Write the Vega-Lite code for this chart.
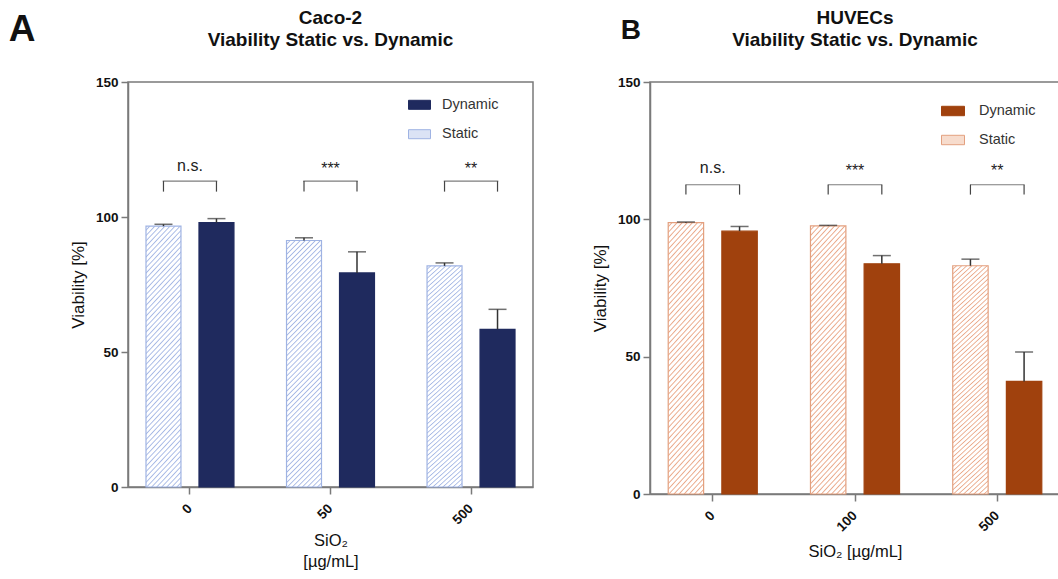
{
  "$schema": "https://vega.github.io/schema/vega-lite/v6.json",
  "background": "white",
  "padding": {"left": 8, "top": 8, "right": 0, "bottom": 0},
  "spacing": 56,
  "config": {
    "font": "Liberation Sans",
    "view": {"stroke": "#7a7a7a", "strokeWidth": 1.5},
    "axis": {"domainColor": "#7a7a7a", "domainWidth": 1.5, "tickColor": "#7a7a7a", "tickWidth": 1.5, "labelColor": "#111", "titleColor": "#111", "labelFont": "Liberation Sans", "titleFont": "Liberation Sans"},
    "title": {"font": "Liberation Sans", "fontWeight": "bold", "color": "#111"},
    "legend": {"labelFont": "Liberation Sans"}
  },
  "datasets": {
    "caco": [
      {"conc": "0", "condition": "Static", "mean": 96.6, "upper": 97.3},
      {"conc": "0", "condition": "Dynamic", "mean": 97.9, "upper": 99.4},
      {"conc": "50", "condition": "Static", "mean": 91.3, "upper": 92.3},
      {"conc": "50", "condition": "Dynamic", "mean": 79.3, "upper": 87.1},
      {"conc": "500", "condition": "Static", "mean": 81.9, "upper": 83.0},
      {"conc": "500", "condition": "Dynamic", "mean": 58.4, "upper": 65.8}
    ],
    "cacoSig": [
      {"conc": "0", "sig": "n.s.", "low": 109.4, "high": 113.3, "labelY": 117.1},
      {"conc": "50", "sig": "***", "low": 109.4, "high": 113.3, "labelY": 116},
      {"conc": "500", "sig": "**", "low": 109.4, "high": 113.3, "labelY": 116}
    ],
    "huvec": [
      {"conc": "0", "condition": "Static", "mean": 98.8, "upper": 99.0},
      {"conc": "0", "condition": "Dynamic", "mean": 95.7, "upper": 97.4},
      {"conc": "100", "condition": "Static", "mean": 97.6, "upper": 97.8},
      {"conc": "100", "condition": "Dynamic", "mean": 83.8, "upper": 86.8},
      {"conc": "500", "condition": "Static", "mean": 83.1, "upper": 85.5},
      {"conc": "500", "condition": "Dynamic", "mean": 41.0, "upper": 51.7}
    ],
    "huvecSig": [
      {"conc": "0", "sig": "n.s.", "low": 109.0, "high": 112.6, "labelY": 116.9},
      {"conc": "100", "sig": "***", "low": 109.0, "high": 112.6, "labelY": 115.7},
      {"conc": "500", "sig": "**", "low": 109.0, "high": 112.6, "labelY": 115.7}
    ]
  },
  "resolve": {"scale": {"fill": "independent", "stroke": "independent", "x": "independent", "y": "independent", "xOffset": "independent"}, "legend": {"fill": "independent", "stroke": "independent"}},
  "hconcat": [
    {
      "title": {"text": "A", "anchor": "start", "frame": "bounds", "fontSize": 37, "dx": -60, "dy": 41, "offset": 0},
      "resolve": {"scale": {"fill": "independent", "stroke": "independent"}, "legend": {"fill": "independent", "stroke": "independent"}},
      "vconcat": [
        {
          "width": 405,
          "height": 405,
          "title": {"text": ["Caco-2", "Viability Static vs. Dynamic"], "fontSize": 19, "lineHeight": 22, "offset": 25, "anchor": "middle"},
          "layer": [
            {
              "data": {"name": "caco"},
              "mark": {"type": "bar", "strokeWidth": 1.2},
              "encoding": {
                "x": {"field": "conc", "type": "nominal", "scale": {"domain": ["0", "50", "500"], "paddingInner": 0.374, "paddingOuter": 0.128},
                  "axis": {"title": ["SiO₂", "[µg/mL]"], "labelAngle": -45, "labelBaseline": "middle", "labelFontWeight": "bold", "labelFontSize": 13.5, "tickSize": 7, "labelPadding": 12, "titleFontSize": 16.5, "titleFontWeight": "normal", "titleLineHeight": 21, "titlePadding": 6}},
                "xOffset": {"field": "condition", "type": "nominal", "scale": {"domain": ["Static", "Dynamic"], "paddingInner": 0.34, "paddingOuter": 0}},
                "y": {"field": "mean", "type": "quantitative", "scale": {"domain": [0, 150], "nice": false},
                  "axis": {"title": "Viability [%]", "values": [0, 50, 100, 150], "grid": false, "labelFontWeight": "bold", "labelFontSize": 13.5, "tickSize": 7, "labelPadding": 3, "titleFontSize": 17, "titleFontWeight": "normal", "titlePadding": 8}},
                "fill": {"field": "condition", "type": "nominal",
                  "scale": {"domain": ["Dynamic", "Static"], "range": ["#1f2a5e", "#dbe3f5"]},
                  "legend": {"title": null, "orient": "none", "legendX": 280, "legendY": 11.3, "padding": 0, "symbolType": "M-1,-0.41H1V0.41H-1Z", "symbolSize": 484, "symbolStrokeWidth": 1, "symbolOpacity": 1, "labelFontSize": 14.5, "labelOffset": 11, "labelColor": "#333", "rowPadding": 10.4},
                  "condition": {"test": "datum.condition === 'Static'", "value": {"gradient": "linear", "x1": 0, "y1": 0, "x2": 0.16, "y2": 1.12, "stops": [
                    {"offset": 0, "color": "#fff"}, {"offset": 0.009, "color": "#fff"}, {"offset": 0.0135, "color": "#a6b8e5"},
                    {"offset": 0.018, "color": "#fff"}, {"offset": 0.027, "color": "#fff"}, {"offset": 0.0315, "color": "#a6b8e5"},
                    {"offset": 0.036, "color": "#fff"}, {"offset": 0.045, "color": "#fff"}, {"offset": 0.0495, "color": "#a6b8e5"},
                    {"offset": 0.054, "color": "#fff"}, {"offset": 0.063, "color": "#fff"}, {"offset": 0.0675, "color": "#a6b8e5"},
                    {"offset": 0.072, "color": "#fff"}, {"offset": 0.081, "color": "#fff"}, {"offset": 0.0855, "color": "#a6b8e5"},
                    {"offset": 0.09, "color": "#fff"}, {"offset": 0.099, "color": "#fff"}, {"offset": 0.1035, "color": "#a6b8e5"},
                    {"offset": 0.108, "color": "#fff"}, {"offset": 0.117, "color": "#fff"}, {"offset": 0.1215, "color": "#a6b8e5"},
                    {"offset": 0.126, "color": "#fff"}, {"offset": 0.135, "color": "#fff"}, {"offset": 0.1395, "color": "#a6b8e5"},
                    {"offset": 0.144, "color": "#fff"}, {"offset": 0.153, "color": "#fff"}, {"offset": 0.1575, "color": "#a6b8e5"},
                    {"offset": 0.162, "color": "#fff"}, {"offset": 0.171, "color": "#fff"}, {"offset": 0.1755, "color": "#a6b8e5"},
                    {"offset": 0.18, "color": "#fff"}, {"offset": 0.189, "color": "#fff"}, {"offset": 0.1935, "color": "#a6b8e5"},
                    {"offset": 0.198, "color": "#fff"}, {"offset": 0.207, "color": "#fff"}, {"offset": 0.2115, "color": "#a6b8e5"},
                    {"offset": 0.216, "color": "#fff"}, {"offset": 0.225, "color": "#fff"}, {"offset": 0.2295, "color": "#a6b8e5"},
                    {"offset": 0.234, "color": "#fff"}, {"offset": 0.243, "color": "#fff"}, {"offset": 0.2475, "color": "#a6b8e5"},
                    {"offset": 0.252, "color": "#fff"}, {"offset": 0.261, "color": "#fff"}, {"offset": 0.2655, "color": "#a6b8e5"},
                    {"offset": 0.27, "color": "#fff"}, {"offset": 0.279, "color": "#fff"}, {"offset": 0.2835, "color": "#a6b8e5"},
                    {"offset": 0.288, "color": "#fff"}, {"offset": 0.297, "color": "#fff"}, {"offset": 0.3015, "color": "#a6b8e5"},
                    {"offset": 0.306, "color": "#fff"}, {"offset": 0.315, "color": "#fff"}, {"offset": 0.3195, "color": "#a6b8e5"},
                    {"offset": 0.324, "color": "#fff"}, {"offset": 0.333, "color": "#fff"}, {"offset": 0.3375, "color": "#a6b8e5"},
                    {"offset": 0.342, "color": "#fff"}, {"offset": 0.351, "color": "#fff"}, {"offset": 0.3555, "color": "#a6b8e5"},
                    {"offset": 0.36, "color": "#fff"}, {"offset": 0.369, "color": "#fff"}, {"offset": 0.3735, "color": "#a6b8e5"},
                    {"offset": 0.378, "color": "#fff"}, {"offset": 0.387, "color": "#fff"}, {"offset": 0.3915, "color": "#a6b8e5"},
                    {"offset": 0.396, "color": "#fff"}, {"offset": 0.405, "color": "#fff"}, {"offset": 0.4095, "color": "#a6b8e5"},
                    {"offset": 0.414, "color": "#fff"}, {"offset": 0.423, "color": "#fff"}, {"offset": 0.4275, "color": "#a6b8e5"},
                    {"offset": 0.432, "color": "#fff"}, {"offset": 0.441, "color": "#fff"}, {"offset": 0.4455, "color": "#a6b8e5"},
                    {"offset": 0.45, "color": "#fff"}, {"offset": 0.459, "color": "#fff"}, {"offset": 0.4635, "color": "#a6b8e5"},
                    {"offset": 0.468, "color": "#fff"}, {"offset": 0.477, "color": "#fff"}, {"offset": 0.4815, "color": "#a6b8e5"},
                    {"offset": 0.486, "color": "#fff"}, {"offset": 0.495, "color": "#fff"}, {"offset": 0.4995, "color": "#a6b8e5"},
                    {"offset": 0.504, "color": "#fff"}, {"offset": 0.513, "color": "#fff"}, {"offset": 0.5175, "color": "#a6b8e5"},
                    {"offset": 0.522, "color": "#fff"}, {"offset": 0.531, "color": "#fff"}, {"offset": 0.5355, "color": "#a6b8e5"},
                    {"offset": 0.54, "color": "#fff"}, {"offset": 0.549, "color": "#fff"}, {"offset": 0.5535, "color": "#a6b8e5"},
                    {"offset": 0.558, "color": "#fff"}, {"offset": 0.567, "color": "#fff"}, {"offset": 0.5715, "color": "#a6b8e5"},
                    {"offset": 0.576, "color": "#fff"}, {"offset": 0.585, "color": "#fff"}, {"offset": 0.5895, "color": "#a6b8e5"},
                    {"offset": 0.594, "color": "#fff"}, {"offset": 0.603, "color": "#fff"}, {"offset": 0.6075, "color": "#a6b8e5"},
                    {"offset": 0.612, "color": "#fff"}, {"offset": 0.621, "color": "#fff"}, {"offset": 0.6255, "color": "#a6b8e5"},
                    {"offset": 0.63, "color": "#fff"}, {"offset": 0.639, "color": "#fff"}, {"offset": 0.6435, "color": "#a6b8e5"},
                    {"offset": 0.648, "color": "#fff"}, {"offset": 0.657, "color": "#fff"}, {"offset": 0.6615, "color": "#a6b8e5"},
                    {"offset": 0.666, "color": "#fff"}, {"offset": 0.675, "color": "#fff"}, {"offset": 0.6795, "color": "#a6b8e5"},
                    {"offset": 0.684, "color": "#fff"}, {"offset": 0.693, "color": "#fff"}, {"offset": 0.6975, "color": "#a6b8e5"},
                    {"offset": 0.702, "color": "#fff"}, {"offset": 0.711, "color": "#fff"}, {"offset": 0.7155, "color": "#a6b8e5"},
                    {"offset": 0.72, "color": "#fff"}, {"offset": 0.729, "color": "#fff"}, {"offset": 0.7335, "color": "#a6b8e5"},
                    {"offset": 0.738, "color": "#fff"}, {"offset": 0.747, "color": "#fff"}, {"offset": 0.7515, "color": "#a6b8e5"},
                    {"offset": 0.756, "color": "#fff"}, {"offset": 0.765, "color": "#fff"}, {"offset": 0.7695, "color": "#a6b8e5"},
                    {"offset": 0.774, "color": "#fff"}, {"offset": 0.783, "color": "#fff"}, {"offset": 0.7875, "color": "#a6b8e5"},
                    {"offset": 0.792, "color": "#fff"}, {"offset": 0.801, "color": "#fff"}, {"offset": 0.8055, "color": "#a6b8e5"},
                    {"offset": 0.81, "color": "#fff"}, {"offset": 0.819, "color": "#fff"}, {"offset": 0.8235, "color": "#a6b8e5"},
                    {"offset": 0.828, "color": "#fff"}, {"offset": 0.837, "color": "#fff"}, {"offset": 0.8415, "color": "#a6b8e5"},
                    {"offset": 0.846, "color": "#fff"}, {"offset": 0.855, "color": "#fff"}, {"offset": 0.8595, "color": "#a6b8e5"},
                    {"offset": 0.864, "color": "#fff"}, {"offset": 0.873, "color": "#fff"}, {"offset": 0.8775, "color": "#a6b8e5"},
                    {"offset": 0.882, "color": "#fff"}, {"offset": 0.891, "color": "#fff"}, {"offset": 0.8955, "color": "#a6b8e5"},
                    {"offset": 0.9, "color": "#fff"}, {"offset": 0.909, "color": "#fff"}, {"offset": 0.9135, "color": "#a6b8e5"},
                    {"offset": 0.918, "color": "#fff"}, {"offset": 0.927, "color": "#fff"}, {"offset": 0.9315, "color": "#a6b8e5"},
                    {"offset": 0.936, "color": "#fff"}, {"offset": 0.945, "color": "#fff"}, {"offset": 0.9495, "color": "#a6b8e5"},
                    {"offset": 0.954, "color": "#fff"}, {"offset": 0.963, "color": "#fff"}, {"offset": 0.9675, "color": "#a6b8e5"},
                    {"offset": 0.972, "color": "#fff"}, {"offset": 0.981, "color": "#fff"}, {"offset": 0.9855, "color": "#a6b8e5"},
                    {"offset": 0.99, "color": "#fff"}, {"offset": 1, "color": "#fff"}
                  ]}}},
                "stroke": {"field": "condition", "type": "nominal",
                  "scale": {"domain": ["Dynamic", "Static"], "range": ["#1f2a5e", "#9fb3e3"]},
                  "legend": {"title": null, "orient": "none", "legendX": 280, "legendY": 11.3, "padding": 0, "symbolType": "M-1,-0.41H1V0.41H-1Z", "symbolSize": 484, "symbolStrokeWidth": 1, "symbolOpacity": 1, "labelFontSize": 14.5, "labelOffset": 11, "labelColor": "#333", "rowPadding": 10.4}}
              }
            },
            {
              "data": {"name": "caco"},
              "mark": {"type": "rule", "color": "#333", "strokeWidth": 1.5},
              "encoding": {
                "x": {"field": "conc", "type": "nominal"},
                "xOffset": {"field": "condition", "type": "nominal"},
                "y": {"field": "mean", "type": "quantitative"},
                "y2": {"field": "upper"}
              }
            },
            {
              "data": {"name": "caco"},
              "mark": {"type": "tick", "orient": "horizontal", "color": "#333", "thickness": 1.5, "size": 18},
              "encoding": {
                "x": {"field": "conc", "type": "nominal"},
                "xOffset": {"field": "condition", "type": "nominal"},
                "y": {"field": "upper", "type": "quantitative"}
              }
            },
            {
              "data": {"name": "cacoSig"},
              "mark": {"type": "rule", "color": "#444", "strokeWidth": 1.2},
              "encoding": {
                "x": {"field": "conc", "type": "nominal"},
                "xOffset": {"datum": "Static", "type": "nominal"},
                "y": {"field": "low", "type": "quantitative"},
                "y2": {"field": "high"}
              }
            },
            {
              "data": {"name": "cacoSig"},
              "mark": {"type": "rule", "color": "#444", "strokeWidth": 1.2},
              "encoding": {
                "x": {"field": "conc", "type": "nominal"},
                "xOffset": {"datum": "Dynamic", "type": "nominal"},
                "y": {"field": "low", "type": "quantitative"},
                "y2": {"field": "high"}
              }
            },
            {
              "data": {"name": "cacoSig"},
              "mark": {"type": "tick", "orient": "horizontal", "color": "#444", "thickness": 1.2, "size": 54.5},
              "encoding": {
                "x": {"field": "conc", "type": "nominal"},
                "y": {"field": "high", "type": "quantitative"}
              }
            },
            {
              "data": {"name": "cacoSig"},
              "mark": {"type": "text", "fontSize": 16, "color": "#222", "baseline": "alphabetic"},
              "encoding": {
                "x": {"field": "conc", "type": "nominal"},
                "y": {"field": "labelY", "type": "quantitative"},
                "text": {"field": "sig"}
              }
            }
          ]
        }
      ]
    },
    {
      "title": {"text": "B", "anchor": "start", "frame": "bounds", "fontSize": 28, "dx": 30, "dy": 37, "offset": 0},
      "resolve": {"scale": {"fill": "independent", "stroke": "independent"}, "legend": {"fill": "independent", "stroke": "independent"}},
      "vconcat": [
        {
          "width": 410,
          "height": 412,
          "title": {"text": ["HUVECs", "Viability Static vs. Dynamic"], "fontSize": 19, "lineHeight": 22, "offset": 25, "anchor": "middle"},
          "layer": [
            {
              "data": {"name": "huvec"},
              "mark": {"type": "bar", "strokeWidth": 1.2},
              "encoding": {
                "x": {"field": "conc", "type": "nominal", "scale": {"domain": ["0", "100", "500"], "paddingInner": 0.374, "paddingOuter": 0.128},
                  "axis": {"title": "SiO₂ [µg/mL]", "labelAngle": -45, "labelBaseline": "middle", "labelFontWeight": "bold", "labelFontSize": 13.5, "tickSize": 7, "labelPadding": 12, "titleFontSize": 16.5, "titleFontWeight": "normal", "titlePadding": 10}},
                "xOffset": {"field": "condition", "type": "nominal", "scale": {"domain": ["Static", "Dynamic"], "paddingInner": 0.34, "paddingOuter": 0}},
                "y": {"field": "mean", "type": "quantitative", "scale": {"domain": [0, 150], "nice": false},
                  "axis": {"title": "Viability [%]", "values": [0, 50, 100, 150], "grid": false, "labelFontWeight": "bold", "labelFontSize": 13.5, "tickSize": 7, "labelPadding": 3, "titleFontSize": 17, "titleFontWeight": "normal", "titlePadding": 8}},
                "fill": {"field": "condition", "type": "nominal",
                  "scale": {"domain": ["Dynamic", "Static"], "range": ["#a0410d", "#f7dccd"]},
                  "legend": {"title": null, "orient": "none", "legendX": 291, "legendY": 17, "padding": 0, "symbolType": "M-1,-0.41H1V0.41H-1Z", "symbolSize": 529, "symbolStrokeWidth": 1, "symbolOpacity": 1, "labelFontSize": 14.5, "labelOffset": 14, "labelColor": "#333", "rowPadding": 10},
                  "condition": {"test": "datum.condition === 'Static'", "value": {"gradient": "linear", "x1": 0, "y1": 0, "x2": 0.16, "y2": 1.12, "stops": [
                    {"offset": 0, "color": "#fff"}, {"offset": 0.009, "color": "#fff"}, {"offset": 0.0135, "color": "#eaa98a"},
                    {"offset": 0.018, "color": "#fff"}, {"offset": 0.027, "color": "#fff"}, {"offset": 0.0315, "color": "#eaa98a"},
                    {"offset": 0.036, "color": "#fff"}, {"offset": 0.045, "color": "#fff"}, {"offset": 0.0495, "color": "#eaa98a"},
                    {"offset": 0.054, "color": "#fff"}, {"offset": 0.063, "color": "#fff"}, {"offset": 0.0675, "color": "#eaa98a"},
                    {"offset": 0.072, "color": "#fff"}, {"offset": 0.081, "color": "#fff"}, {"offset": 0.0855, "color": "#eaa98a"},
                    {"offset": 0.09, "color": "#fff"}, {"offset": 0.099, "color": "#fff"}, {"offset": 0.1035, "color": "#eaa98a"},
                    {"offset": 0.108, "color": "#fff"}, {"offset": 0.117, "color": "#fff"}, {"offset": 0.1215, "color": "#eaa98a"},
                    {"offset": 0.126, "color": "#fff"}, {"offset": 0.135, "color": "#fff"}, {"offset": 0.1395, "color": "#eaa98a"},
                    {"offset": 0.144, "color": "#fff"}, {"offset": 0.153, "color": "#fff"}, {"offset": 0.1575, "color": "#eaa98a"},
                    {"offset": 0.162, "color": "#fff"}, {"offset": 0.171, "color": "#fff"}, {"offset": 0.1755, "color": "#eaa98a"},
                    {"offset": 0.18, "color": "#fff"}, {"offset": 0.189, "color": "#fff"}, {"offset": 0.1935, "color": "#eaa98a"},
                    {"offset": 0.198, "color": "#fff"}, {"offset": 0.207, "color": "#fff"}, {"offset": 0.2115, "color": "#eaa98a"},
                    {"offset": 0.216, "color": "#fff"}, {"offset": 0.225, "color": "#fff"}, {"offset": 0.2295, "color": "#eaa98a"},
                    {"offset": 0.234, "color": "#fff"}, {"offset": 0.243, "color": "#fff"}, {"offset": 0.2475, "color": "#eaa98a"},
                    {"offset": 0.252, "color": "#fff"}, {"offset": 0.261, "color": "#fff"}, {"offset": 0.2655, "color": "#eaa98a"},
                    {"offset": 0.27, "color": "#fff"}, {"offset": 0.279, "color": "#fff"}, {"offset": 0.2835, "color": "#eaa98a"},
                    {"offset": 0.288, "color": "#fff"}, {"offset": 0.297, "color": "#fff"}, {"offset": 0.3015, "color": "#eaa98a"},
                    {"offset": 0.306, "color": "#fff"}, {"offset": 0.315, "color": "#fff"}, {"offset": 0.3195, "color": "#eaa98a"},
                    {"offset": 0.324, "color": "#fff"}, {"offset": 0.333, "color": "#fff"}, {"offset": 0.3375, "color": "#eaa98a"},
                    {"offset": 0.342, "color": "#fff"}, {"offset": 0.351, "color": "#fff"}, {"offset": 0.3555, "color": "#eaa98a"},
                    {"offset": 0.36, "color": "#fff"}, {"offset": 0.369, "color": "#fff"}, {"offset": 0.3735, "color": "#eaa98a"},
                    {"offset": 0.378, "color": "#fff"}, {"offset": 0.387, "color": "#fff"}, {"offset": 0.3915, "color": "#eaa98a"},
                    {"offset": 0.396, "color": "#fff"}, {"offset": 0.405, "color": "#fff"}, {"offset": 0.4095, "color": "#eaa98a"},
                    {"offset": 0.414, "color": "#fff"}, {"offset": 0.423, "color": "#fff"}, {"offset": 0.4275, "color": "#eaa98a"},
                    {"offset": 0.432, "color": "#fff"}, {"offset": 0.441, "color": "#fff"}, {"offset": 0.4455, "color": "#eaa98a"},
                    {"offset": 0.45, "color": "#fff"}, {"offset": 0.459, "color": "#fff"}, {"offset": 0.4635, "color": "#eaa98a"},
                    {"offset": 0.468, "color": "#fff"}, {"offset": 0.477, "color": "#fff"}, {"offset": 0.4815, "color": "#eaa98a"},
                    {"offset": 0.486, "color": "#fff"}, {"offset": 0.495, "color": "#fff"}, {"offset": 0.4995, "color": "#eaa98a"},
                    {"offset": 0.504, "color": "#fff"}, {"offset": 0.513, "color": "#fff"}, {"offset": 0.5175, "color": "#eaa98a"},
                    {"offset": 0.522, "color": "#fff"}, {"offset": 0.531, "color": "#fff"}, {"offset": 0.5355, "color": "#eaa98a"},
                    {"offset": 0.54, "color": "#fff"}, {"offset": 0.549, "color": "#fff"}, {"offset": 0.5535, "color": "#eaa98a"},
                    {"offset": 0.558, "color": "#fff"}, {"offset": 0.567, "color": "#fff"}, {"offset": 0.5715, "color": "#eaa98a"},
                    {"offset": 0.576, "color": "#fff"}, {"offset": 0.585, "color": "#fff"}, {"offset": 0.5895, "color": "#eaa98a"},
                    {"offset": 0.594, "color": "#fff"}, {"offset": 0.603, "color": "#fff"}, {"offset": 0.6075, "color": "#eaa98a"},
                    {"offset": 0.612, "color": "#fff"}, {"offset": 0.621, "color": "#fff"}, {"offset": 0.6255, "color": "#eaa98a"},
                    {"offset": 0.63, "color": "#fff"}, {"offset": 0.639, "color": "#fff"}, {"offset": 0.6435, "color": "#eaa98a"},
                    {"offset": 0.648, "color": "#fff"}, {"offset": 0.657, "color": "#fff"}, {"offset": 0.6615, "color": "#eaa98a"},
                    {"offset": 0.666, "color": "#fff"}, {"offset": 0.675, "color": "#fff"}, {"offset": 0.6795, "color": "#eaa98a"},
                    {"offset": 0.684, "color": "#fff"}, {"offset": 0.693, "color": "#fff"}, {"offset": 0.6975, "color": "#eaa98a"},
                    {"offset": 0.702, "color": "#fff"}, {"offset": 0.711, "color": "#fff"}, {"offset": 0.7155, "color": "#eaa98a"},
                    {"offset": 0.72, "color": "#fff"}, {"offset": 0.729, "color": "#fff"}, {"offset": 0.7335, "color": "#eaa98a"},
                    {"offset": 0.738, "color": "#fff"}, {"offset": 0.747, "color": "#fff"}, {"offset": 0.7515, "color": "#eaa98a"},
                    {"offset": 0.756, "color": "#fff"}, {"offset": 0.765, "color": "#fff"}, {"offset": 0.7695, "color": "#eaa98a"},
                    {"offset": 0.774, "color": "#fff"}, {"offset": 0.783, "color": "#fff"}, {"offset": 0.7875, "color": "#eaa98a"},
                    {"offset": 0.792, "color": "#fff"}, {"offset": 0.801, "color": "#fff"}, {"offset": 0.8055, "color": "#eaa98a"},
                    {"offset": 0.81, "color": "#fff"}, {"offset": 0.819, "color": "#fff"}, {"offset": 0.8235, "color": "#eaa98a"},
                    {"offset": 0.828, "color": "#fff"}, {"offset": 0.837, "color": "#fff"}, {"offset": 0.8415, "color": "#eaa98a"},
                    {"offset": 0.846, "color": "#fff"}, {"offset": 0.855, "color": "#fff"}, {"offset": 0.8595, "color": "#eaa98a"},
                    {"offset": 0.864, "color": "#fff"}, {"offset": 0.873, "color": "#fff"}, {"offset": 0.8775, "color": "#eaa98a"},
                    {"offset": 0.882, "color": "#fff"}, {"offset": 0.891, "color": "#fff"}, {"offset": 0.8955, "color": "#eaa98a"},
                    {"offset": 0.9, "color": "#fff"}, {"offset": 0.909, "color": "#fff"}, {"offset": 0.9135, "color": "#eaa98a"},
                    {"offset": 0.918, "color": "#fff"}, {"offset": 0.927, "color": "#fff"}, {"offset": 0.9315, "color": "#eaa98a"},
                    {"offset": 0.936, "color": "#fff"}, {"offset": 0.945, "color": "#fff"}, {"offset": 0.9495, "color": "#eaa98a"},
                    {"offset": 0.954, "color": "#fff"}, {"offset": 0.963, "color": "#fff"}, {"offset": 0.9675, "color": "#eaa98a"},
                    {"offset": 0.972, "color": "#fff"}, {"offset": 0.981, "color": "#fff"}, {"offset": 0.9855, "color": "#eaa98a"},
                    {"offset": 0.99, "color": "#fff"}, {"offset": 1, "color": "#fff"}
                  ]}}},
                "stroke": {"field": "condition", "type": "nominal",
                  "scale": {"domain": ["Dynamic", "Static"], "range": ["#a0410d", "#e3a07f"]},
                  "legend": {"title": null, "orient": "none", "legendX": 291, "legendY": 17, "padding": 0, "symbolType": "M-1,-0.41H1V0.41H-1Z", "symbolSize": 529, "symbolStrokeWidth": 1, "symbolOpacity": 1, "labelFontSize": 14.5, "labelOffset": 14, "labelColor": "#333", "rowPadding": 10}}
              }
            },
            {
              "data": {"name": "huvec"},
              "mark": {"type": "rule", "color": "#333", "strokeWidth": 1.5},
              "encoding": {
                "x": {"field": "conc", "type": "nominal"},
                "xOffset": {"field": "condition", "type": "nominal"},
                "y": {"field": "mean", "type": "quantitative"},
                "y2": {"field": "upper"}
              }
            },
            {
              "data": {"name": "huvec"},
              "mark": {"type": "tick", "orient": "horizontal", "color": "#333", "thickness": 1.5, "size": 18},
              "encoding": {
                "x": {"field": "conc", "type": "nominal"},
                "xOffset": {"field": "condition", "type": "nominal"},
                "y": {"field": "upper", "type": "quantitative"}
              }
            },
            {
              "data": {"name": "huvecSig"},
              "mark": {"type": "rule", "color": "#444", "strokeWidth": 1.2},
              "encoding": {
                "x": {"field": "conc", "type": "nominal"},
                "xOffset": {"datum": "Static", "type": "nominal"},
                "y": {"field": "low", "type": "quantitative"},
                "y2": {"field": "high"}
              }
            },
            {
              "data": {"name": "huvecSig"},
              "mark": {"type": "rule", "color": "#444", "strokeWidth": 1.2},
              "encoding": {
                "x": {"field": "conc", "type": "nominal"},
                "xOffset": {"datum": "Dynamic", "type": "nominal"},
                "y": {"field": "low", "type": "quantitative"},
                "y2": {"field": "high"}
              }
            },
            {
              "data": {"name": "huvecSig"},
              "mark": {"type": "tick", "orient": "horizontal", "color": "#444", "thickness": 1.2, "size": 54.5},
              "encoding": {
                "x": {"field": "conc", "type": "nominal"},
                "y": {"field": "high", "type": "quantitative"}
              }
            },
            {
              "data": {"name": "huvecSig"},
              "mark": {"type": "text", "fontSize": 16, "color": "#222", "baseline": "alphabetic"},
              "encoding": {
                "x": {"field": "conc", "type": "nominal"},
                "y": {"field": "labelY", "type": "quantitative"},
                "text": {"field": "sig"}
              }
            }
          ]
        }
      ]
    }
  ]
}
